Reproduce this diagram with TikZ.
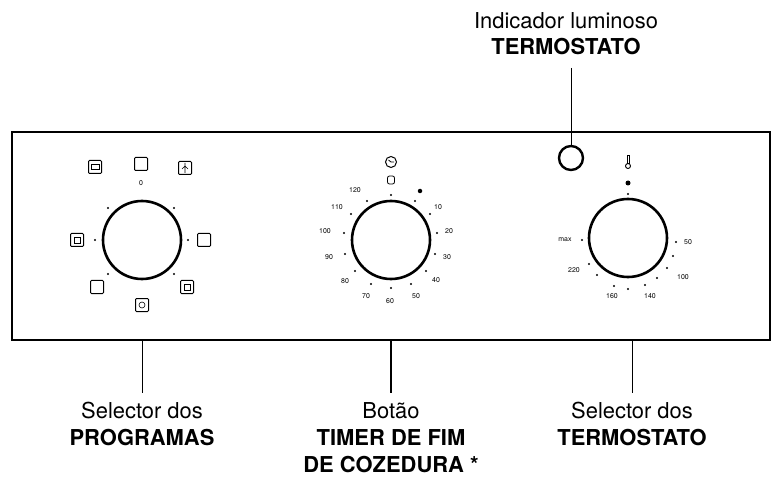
\documentclass[tikz,border=0pt]{standalone}
\usepackage{fontspec}
\setmainfont{TeX Gyre Heros}
\begin{document}
\begin{tikzpicture}[x=1bp,y=-1bp,
  lbl/.style={font=\fontsize{22}{24}\selectfont,inner sep=0},
  blbl/.style={font=\fontsize{22}{24}\selectfont\bfseries,inner sep=0},
  dial/.style={draw,line width=2.6bp,circle,minimum size=78bp,inner sep=0},
  tk/.style={fill,circle,inner sep=0,minimum size=2.4bp},
  num/.style={font=\fontsize{7}{8}\selectfont,inner sep=0},
  ico/.style={draw,line width=1bp,rounded corners=1bp,minimum size=13bp,inner sep=0},
  lead/.style={line width=1bp}]
\useasboundingbox (0,0) rectangle (779,484);
\draw[line width=1.6bp] (12,132) rectangle (770,340);
% texts
\node[lbl] (t1) at (566,21) {Indicador luminoso};
\node[blbl] (t2) at (566,47) {TERMOSTATO};
\node[lbl] (a1) at (142,411) {Selector dos};
\node[blbl] (a2) at (142,438) {PROGRAMAS};
\node[lbl] (b1) at (391,411) {Botão};
\node[blbl] (b2) at (391,438) {TIMER DE FIM};
\node[blbl] (b3) at (391,465) {DE COZEDURA *};
\node[lbl] (c1) at (632,411) {Selector dos};
\node[blbl] (c2) at (632,438) {TERMOSTATO};
% dials
\node[dial] (d1) at (142,240) {};
\node[dial] (d2) at (391,240) {};
\node[dial] (d3) at (628,238) {};
\node[draw,circle,line width=2.4bp,minimum size=24bp,inner sep=0] (ind) at (571,158) {};
% leaders
\coordinate (p1) at (142,340); \coordinate (q1) at (142,393);
\coordinate (p2) at (391,340); \coordinate (q2) at (391,393);
\coordinate (p3) at (632,340); \coordinate (q3) at (632,393);
\coordinate (p0) at (571,68);
\draw[lead] (p1) -- (q1); \draw[lead,line width=2bp] (p2) -- (q2); \draw[lead] (p3) -- (q3);
\draw[lead] (p0) -- (ind.north);
% left dial icons
\node[ico] (i1) at (141,164) {};
\node[num] (z0) at (141,183) {0};
\node[ico] (i2) at (185,168) {};
\draw[line width=0.6bp] (185,163) -- (185,173) (182,169) -- (185,166) -- (188,169);
\node[ico] (i3) at (204,240) {};
\node[ico] (i4) at (187,287) {};
\draw[line width=0.6bp] (184,284) rectangle (190,290);
\node[ico] (i5) at (142,305) {};
\draw[line width=0.6bp] (i5.center) circle (3);
\node[ico] (i6) at (97,287) {};
\node[ico] (i7) at (77,240) {};
\draw[line width=0.6bp] (74,237) rectangle (80,243);
\node[ico] (i8) at (95,167) {};
\draw[line width=0.6bp] (91,164) rectangle (99,169);
\foreach \p in {(108,208),(174,208),(95,240),(188,240),(108,274),(174,274)} \node[tk] at \p {};
% middle dial
\foreach \t/\p in {120/{(355,190)},110/{(337,207)},100/{(325,231)},90/{(329,257)},80/{(345,281)},70/{(366,296)},60/{(390,301)},50/{(416,296)},40/{(436,280)},30/{(447,257)},20/{(449,231)},10/{(438,207)}} \node[num] at \p {\t};
\node[fill,circle,inner sep=0,minimum size=4.5bp] (bd) at (420,191) {};
\foreach \p in {(391,195),(415,201),(430,214),(437,233),(435,254),(426,271),(411,284),(391,288),(371,284),(355,271),(345,254),(344,233),(351,214),(367,201)} \node[tk] at \p {};
\node[draw,circle,line width=1bp,minimum size=11bp,inner sep=0] (clk) at (391,162) {};
\draw[line width=0.8bp] (clk.center) -- ++(-2.5,-2) (clk.center) -- ++(3,0);
\node[draw,line width=0.8bp,rounded corners=2bp,minimum width=7bp,minimum height=8bp,inner sep=0] (hand) at (391,180) {};
% right dial
\node[draw,line width=0.9bp,minimum width=2bp,minimum height=8bp,inner sep=0] (th) at (628,159) {};
\node[draw,circle,line width=0.9bp,minimum size=5bp,inner sep=0] (thb) at (628,166) {};
\node[fill,circle,inner sep=0,minimum size=5bp] (rd) at (628,183) {};
\foreach \p in {(628,194),(582,240),(676,242),(673,256),(667,268),(657,278),(589,264),(597,275),(614,286),(628,289),(645,285)} \node[tk] at \p {};
\foreach \t/\p in {max/{(565,240)},50/{(688,242)},100/{(683,277)},220/{(574,270)},160/{(612,296)},140/{(650,296)}} \node[num] at \p {\t};
\end{tikzpicture}
\end{document}
